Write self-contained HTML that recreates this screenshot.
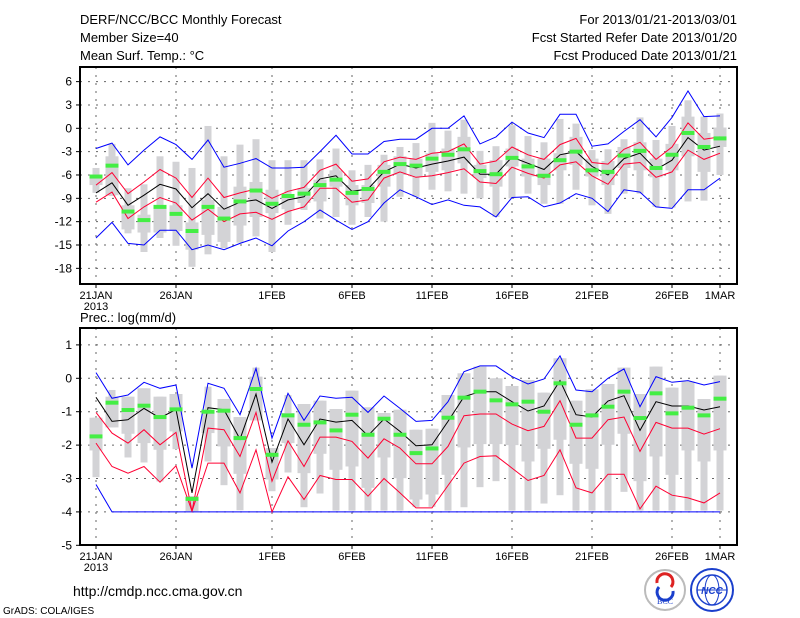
<!DOCTYPE html>
<html><head><meta charset="utf-8">
<style>
html,body{margin:0;padding:0;background:#fff;}
svg{display:block;font-family:"Liberation Sans",sans-serif;}
</style></head>
<body>
<svg id="chart" width="800" height="618" viewBox="0 0 800 618" xmlns="http://www.w3.org/2000/svg">
<rect width="800" height="618" fill="#fff"/>
<g font-size="13" fill="#000">
<text x="80" y="24">DERF/NCC/BCC Monthly Forecast</text>
<text x="80" y="42">Member Size=40</text>
<text x="80" y="60">Mean Surf. Temp.: °C</text>
<text x="737" y="24" text-anchor="end">For 2013/01/21-2013/03/01</text>
<text x="737" y="42" text-anchor="end">Fcst Started Refer Date 2013/01/20</text>
<text x="737" y="60" text-anchor="end">Fcst Produced Date 2013/01/21</text>
</g>
<text x="80" y="322" font-size="13">Prec.: log(mm/d)</text>
<g id="top"></g>
<g id="bot"></g>
<text x="73" y="596" font-size="14">http://cmdp.ncc.cma.gov.cn</text>
<text x="3" y="614" font-size="10">GrADS: COLA/IGES</text>
<g>
<circle cx="665" cy="590" r="20" fill="#fff" stroke="#bbb" stroke-width="2"/>
<path d="M657 583 a8 8 0 1 1 14 4" fill="none" stroke="#d22" stroke-width="3"/>
<path d="M673 591 a8 8 0 1 1 -14 -4" fill="none" stroke="#1a3fcc" stroke-width="3"/>
<text x="665" y="604" font-size="8" text-anchor="middle" font-family="Liberation Serif,serif" fill="#1a3fcc">BCC</text>
</g>
<g>
<circle cx="712" cy="590" r="21" fill="#fff" stroke="#1a3fcc" stroke-width="2"/>
<circle cx="712" cy="590" r="15" fill="none" stroke="#1a3fcc" stroke-width="1.5"/>
<ellipse cx="712" cy="590" rx="7" ry="15" fill="none" stroke="#1a3fcc" stroke-width="1"/>
<line x1="697" y1="590" x2="727" y2="590" stroke="#1a3fcc"/>
<text x="712" y="594" font-size="10" text-anchor="middle" font-style="italic" font-weight="bold" fill="#1a3fcc">NCC</text>
</g>
</svg>
<script>
// ---- Temperature panel data (°C) ----
var tBlueHi=[-2.6,-1.9,-4.7,-2.8,-1.1,-2.1,-4.0,-1.5,-5.0,-4.5,-3.9,-5.1,-5.1,-5.0,-3.0,-0.9,-3.3,-3.3,-1.7,-1.4,-1.4,0.0,0.0,1.6,-2.0,-1.1,0.8,-0.6,-1.2,1.8,1.8,-2.3,-2.0,-0.4,1.1,-1.1,1.4,4.8,1.5,1.6];
var tRedHi=[-7.3,-5.7,-8.4,-6.9,-5.3,-6.4,-8.9,-6.4,-8.9,-8.3,-7.8,-9.0,-8.1,-7.6,-5.4,-4.6,-6.8,-6.5,-4.3,-3.7,-4.0,-3.2,-3.0,-2.0,-4.6,-4.2,-2.4,-3.4,-4.0,-2.1,-1.3,-4.4,-4.6,-2.7,-1.8,-4.0,-2.4,0.7,-1.4,-1.1];
var tMean=[-8.3,-7.0,-9.9,-8.6,-7.2,-7.8,-10.2,-8.4,-10.4,-9.5,-9.2,-10.3,-9.2,-8.8,-6.5,-6.1,-8.1,-7.8,-5.6,-4.6,-5.1,-4.6,-4.2,-3.7,-5.9,-5.9,-3.7,-4.5,-5.3,-3.4,-3.0,-4.9,-6.0,-3.9,-3.2,-5.3,-4.1,-1.2,-2.8,-2.3];
var tRedLo=[-9.5,-8.2,-11.6,-10.1,-8.9,-9.6,-11.8,-10.4,-12.0,-11.0,-10.8,-11.7,-10.7,-10.1,-7.7,-7.7,-9.5,-9.2,-6.4,-5.6,-6.3,-6.1,-5.7,-5.2,-6.9,-7.1,-5.0,-5.8,-6.4,-4.7,-4.3,-6.1,-7.2,-4.6,-4.4,-6.3,-5.6,-2.8,-4.0,-3.2];
var tBlueLo=[-14.1,-12.1,-14.8,-15.0,-13.1,-13.1,-15.6,-15.0,-15.6,-14.8,-14.1,-15.1,-13.2,-12.0,-10.5,-11.8,-13.0,-12.0,-9.6,-7.9,-8.8,-9.8,-9.2,-9.9,-10.1,-11.4,-8.9,-8.8,-10.1,-9.6,-8.4,-9.0,-10.7,-7.9,-8.2,-10.1,-10.3,-7.9,-7.9,-6.4];
var tGreen=[-6.2,-4.8,-10.7,-11.8,-10.1,-11.0,-13.2,-10.1,-11.6,-9.4,-8.0,-9.7,-8.7,-8.4,-7.3,-6.6,-8.3,-7.8,-5.6,-4.6,-4.8,-3.9,-3.4,-2.7,-5.5,-5.9,-3.8,-4.9,-6.1,-4.1,-3.0,-5.4,-5.6,-3.5,-2.9,-5.1,-3.4,-0.6,-2.4,-1.3];
var tMax=[-5.1,-2.0,-7.7,-7.2,-3.6,-4.3,-5.1,0.3,-3.6,-2.1,-1.4,-4.1,-4.1,-4.1,-4.0,-2.6,-5.4,-4.7,-3.4,-2.4,-1.9,0.7,-0.3,1.1,-2.9,-2.3,0.4,-1.0,-1.8,1.2,0.6,-2.8,-2.7,-1.4,1.4,-1.5,0.3,3.6,1.5,1.9];
var tMin=[-8.3,-8.7,-13.5,-15.9,-14.1,-15.1,-17.8,-16.2,-15.4,-14.7,-13.9,-15.9,-12.4,-10.5,-11.6,-11.4,-12.4,-11.4,-12.0,-8.8,-8.8,-7.9,-8.1,-8.4,-9.0,-11.4,-9.0,-8.4,-9.7,-9.7,-7.9,-9.9,-11.0,-8.4,-8.4,-10.1,-10.2,-9.4,-9.3,-6.0];
var tQ3=[-6.1,-3.6,-9.9,-11.1,-10.1,-9.9,-12.1,-9.2,-10.1,-7.5,-6.9,-7.9,-8.6,-7.7,-6.6,-5.4,-7.3,-7.3,-4.7,-3.6,-3.9,-3.2,-2.6,-1.1,-4.7,-4.1,-2.6,-3.9,-3.9,-3.2,-1.1,-3.9,-4.2,-2.4,-1.8,-3.9,-2.0,1.5,-0.6,0.1];
var tQ1=[-7.3,-8.6,-13.0,-13.4,-13.4,-13.2,-15.6,-13.7,-14.6,-12.5,-11.4,-10.9,-10.4,-9.6,-9.4,-7.5,-9.9,-9.6,-7.5,-6.0,-6.2,-5.6,-5.4,-4.5,-6.4,-7.5,-4.9,-6.2,-7.3,-5.4,-4.7,-6.2,-7.3,-5.1,-5.4,-6.3,-5.4,-3.6,-5.6,-2.4];
var tTicks=[6,3,0,-3,-6,-9,-12,-15,-18];
// ---- Precipitation panel data (log mm/d) ----
var pBlueHi=[0.17,-0.6,-0.5,-0.12,-0.3,-0.2,-2.69,-0.15,-0.3,-1.09,0.3,-1.79,-0.45,-1.26,-0.53,-0.6,-0.57,-1.02,-0.53,-0.9,-1.29,-1.26,-0.7,0.2,0.37,0.37,0.05,-0.17,-0.02,0.67,-0.35,-0.4,0.0,0.28,-0.85,0.05,-0.12,-0.07,-0.2,-0.1];
var pRedHi=[-1.02,-1.64,-1.94,-1.54,-1.99,-1.62,-3.98,-1.49,-1.54,-2.34,-1.02,-3.08,-1.87,-2.64,-1.76,-1.76,-1.89,-2.39,-1.81,-2.09,-2.56,-2.56,-2.04,-1.12,-1.07,-1.07,-1.37,-1.57,-1.44,-0.67,-1.79,-1.79,-1.24,-1.16,-2.19,-1.32,-1.49,-1.49,-1.67,-1.51];
var pMean=[-0.57,-1.29,-1.24,-0.9,-1.19,-0.93,-3.43,-0.88,-0.94,-1.82,-0.47,-2.51,-1.22,-1.99,-1.22,-1.31,-1.26,-1.72,-1.22,-1.59,-2.02,-1.99,-1.29,-0.55,-0.4,-0.4,-0.7,-0.98,-0.83,-0.07,-1.09,-1.16,-0.68,-0.52,-1.56,-0.7,-0.83,-0.83,-0.95,-0.85];
var pRedLo=[-1.94,-2.64,-2.84,-2.64,-3.11,-2.62,-3.98,-2.54,-2.54,-3.43,-2.14,-4.0,-2.95,-3.63,-2.91,-3.03,-3.03,-3.53,-3.0,-3.43,-3.88,-3.88,-3.21,-2.54,-2.34,-2.32,-2.69,-3.06,-2.91,-2.14,-3.28,-3.43,-2.87,-2.87,-3.91,-3.23,-3.5,-3.58,-3.73,-3.43];
var pBlueLo=[-3.18,-4,-4,-4,-4,-4,-4,-4,-4,-4,-4,-4,-4,-4,-4,-4,-4,-4,-4,-4,-4,-4,-4,-4,-4,-4,-4,-4,-4,-4,-4,-4,-4,-4,-4,-4,-4,-4,-4,-4];
var pGreen=[-1.74,-0.73,-0.95,-0.82,-1.16,-0.93,-3.61,-1.0,-0.97,-1.79,-0.32,-2.29,-1.11,-1.39,-1.32,-1.56,-1.09,-1.69,-1.21,-1.69,-2.24,-2.1,-1.18,-0.58,-0.4,-0.66,-0.78,-0.7,-1.0,-0.15,-1.39,-1.11,-0.85,-0.4,-1.19,-0.45,-1.05,-0.88,-1.11,-0.61];
var pMax=[-1.18,-0.35,-0.55,-0.3,-0.55,-0.47,-3.53,-0.25,-0.62,-1.16,0.32,-2.09,-0.5,-0.77,-0.67,-0.92,-0.37,-0.87,-1.04,-0.94,-1.54,-1.51,-0.5,0.15,0.35,0.0,-0.23,-0.05,-0.43,0.6,-0.67,-0.33,-0.17,0.32,-0.47,0.35,-0.28,-0.1,-0.62,0.08];
var pMin=[-2.96,-1.47,-2.37,-2.52,-3.09,-2.12,-3.98,-2.49,-3.2,-3.95,-1.26,-3.38,-2.82,-3.86,-3.45,-3.96,-3.96,-3.96,-3.96,-3.96,-3.85,-3.85,-3.96,-3.86,-3.26,-3.08,-3.96,-3.96,-3.75,-3.5,-3.96,-3.96,-3.96,-3.4,-3.96,-3.96,-3.96,-3.96,-3.96,-3.96];
var pQ3=[-1.18,-0.55,-0.55,-0.3,-0.55,-0.47,-3.53,-0.99,-0.62,-1.16,0.05,-2.09,-1.04,-0.77,-0.67,-0.92,-0.37,-0.87,-1.04,-0.94,-1.54,-1.51,-0.5,0.15,0.35,0.0,-0.23,-0.05,-0.43,0.6,-0.67,-0.33,-0.17,0.32,-0.47,0.35,-0.28,-0.1,-0.62,0.08];
var pQ1=[-2.16,-1.47,-1.66,-1.94,-2.14,-1.59,-3.98,-1.64,-2.04,-2.86,-1.26,-3.03,-1.94,-2.84,-2.26,-2.74,-2.64,-3.28,-2.37,-2.99,-3.63,-3.48,-2.89,-2.07,-1.97,-1.97,-2.0,-2.49,-2.11,-1.84,-2.56,-2.71,-1.99,-1.66,-3.08,-2.34,-2.89,-2.16,-2.49,-2.16];
var pTicks=[1,0,-1,-2,-3,-4,-5];
// ---- shared x axis ----
var xDays=[0,5,11,16,21,26,31,36,39];
var xLabels=["21JAN","26JAN","1FEB","6FEB","11FEB","16FEB","21FEB","26FEB","1MAR"];

var NS="http://www.w3.org/2000/svg";
function xs(d){return 96+16*d;}
function mk(tag,attrs,parent){var e=document.createElementNS(NS,tag);for(var k in attrs)e.setAttribute(k,attrs[k]);parent.appendChild(e);return e;}

function panel(g,top,bottom,ymap,ticks,d,prefix){
  var L=80,R=737;
  // grid
  ticks.forEach(function(t){
    var y=ymap(t);
    if(y>top+2&&y<bottom-2){var gl=mk('line',{x1:L,x2:R,y1:y,y2:y,stroke:'#666','stroke-dasharray':'2,6','stroke-width':1},g);
    
    }
    var tk=mk('line',{x1:L-4,x2:L,y1:y,y2:y,stroke:'#000'},g);
    
    
    var tl=mk('text',{x:L-8,y:y+4,'font-size':12,'text-anchor':'end'},g);tl.textContent=t;
    
    
  });
  xDays.forEach(function(dd,i){
    var x=xs(dd);
    var gl=mk('line',{x1:x,x2:x,y1:top,y2:bottom,stroke:'#666','stroke-dasharray':'2,6'},g);
    
    
    var tk=mk('line',{x1:x,x2:x,y1:bottom,y2:bottom+4,stroke:'#000'},g);
    
    
    var tl=mk('text',{x:x,y:bottom+15,'font-size':11,'text-anchor':'middle'},g);tl.textContent=xLabels[i];
    
    
  });
  var yr=mk('text',{x:96,y:bottom+26,'font-size':11,'text-anchor':'middle'},g);yr.textContent="2013";
  
  
  // bars
  for(var i=0;i<40;i++){
    var x=xs(i);
    var w=mk('rect',{x:x-3.5,width:7,y:ymap(d.max[i]),height:Math.max(1,ymap(d.min[i])-ymap(d.max[i])),fill:'#d3d3d6'},g);
    
    
    var b=mk('rect',{x:x-6.5,width:13,y:ymap(d.q3[i]),height:Math.max(1,ymap(d.q1[i])-ymap(d.q3[i])),fill:'#d3d3d6'},g);
    
    
  }
  function line(arr,col,name){
    var p=arr.map(function(v,i){return xs(i)+','+ymap(v).toFixed(1);}).join(' ');
    var pl=mk('polyline',{points:p,fill:'none',stroke:col,'stroke-width':1},g);
    
    
  }
  line(d.blo,'#0000ff',prefix+'-blue-lower');
  line(d.bhi,'#0000ff',prefix+'-blue-upper');
  line(d.rlo,'#ff0033',prefix+'-red-lower');
  line(d.rhi,'#ff0033',prefix+'-red-upper');
  line(d.mean,'#000',prefix+'-ensemble-mean');
  for(var i=0;i<40;i++){
    var r=mk('rect',{x:xs(i)-6.5,width:13,y:ymap(d.green[i])-2,height:4,fill:'#44ee44'},g);
    
    
  }
  var fr=mk('rect',{x:L,y:top,width:R-L,height:bottom-top,fill:'none',stroke:'#000','stroke-width':2},g);
  
  
}
panel(document.getElementById('top'),67,284,function(v){return 128.3-7.78*v;},tTicks,
 {max:tMax,min:tMin,q3:tQ3,q1:tQ1,bhi:tBlueHi,rhi:tRedHi,mean:tMean,rlo:tRedLo,blo:tBlueLo,green:tGreen},'temp');
panel(document.getElementById('bot'),328,545,function(v){return 378.3-33.4*v;},pTicks,
 {max:pMax,min:pMin,q3:pQ3,q1:pQ1,bhi:pBlueHi,rhi:pRedHi,mean:pMean,rlo:pRedLo,blo:pBlueLo,green:pGreen},'precip');
</script>
</body></html>
